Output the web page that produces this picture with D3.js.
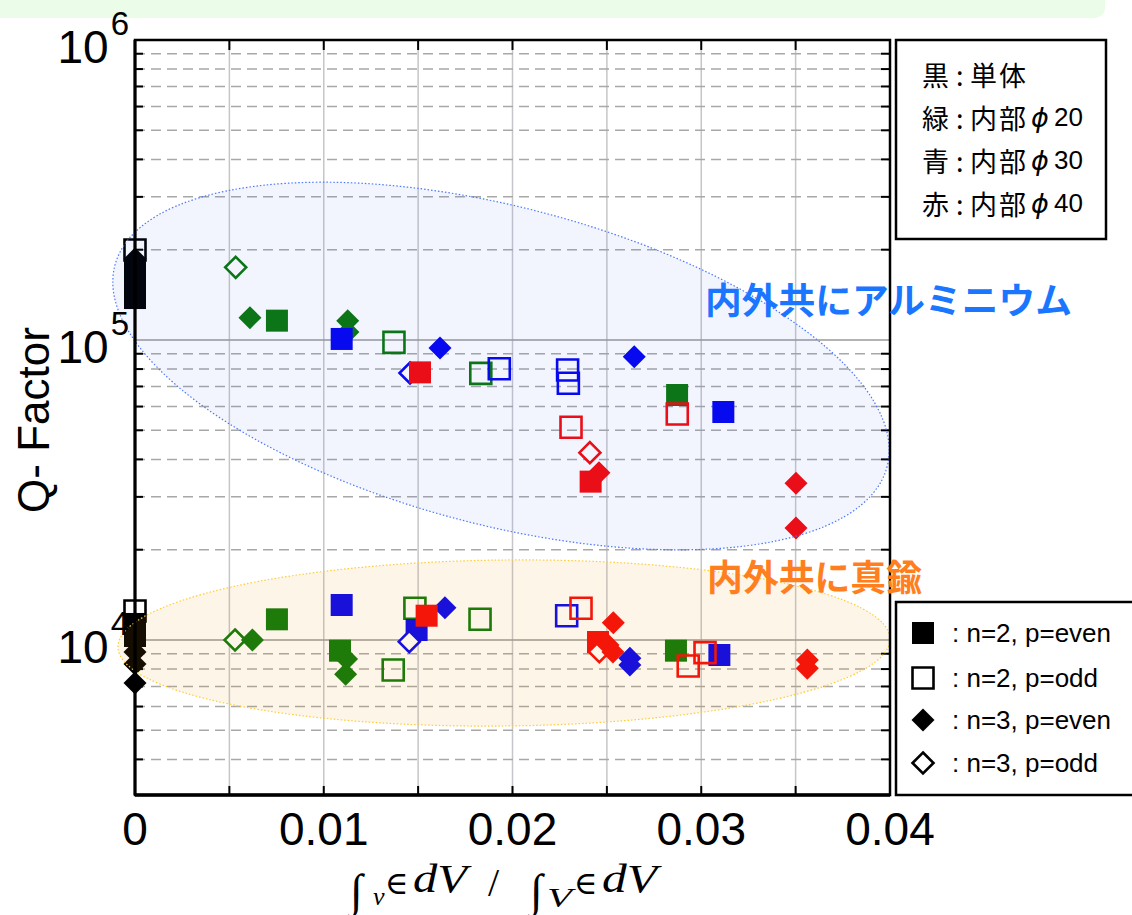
<!DOCTYPE html>
<html><head><meta charset="utf-8">
<script src="https://cdn.jsdelivr.net/npm/d3@7"></script>
<style>body{margin:0;background:#fff;overflow:hidden} svg{display:block}</style>
</head><body>
<svg id="c" width="1132" height="915"></svg>
<script>
// ---------- data ----------
const xTickValues = [0, 0.01, 0.02, 0.03, 0.04];
const xTickLabels = ["0", "0.01", "0.02", "0.03", "0.04"];
const yDecadeValues = [1e4, 1e5, 1e6];
const yDecadeExponents = ["4", "5", "6"];
const groupKeys = ["k", "g", "b", "r"];
const groupColors = ["#000000", "#0a780a", "#0505f0", "#f50a0a"];
const groupLegendHead = ["黒", "緑", "青", "赤"];
const groupLegendBody = ["単体", "内部", "内部", "内部"];
const groupLegendDiam = ["", "20", "30", "40"];
const markerLegend = [": n=2, p=even", ": n=2, p=odd", ": n=3, p=even", ": n=3, p=odd"];
const regionLabels = ["内外共にアルミニウム", "内外共に真鍮"];

// [x, Q, group]
const n2Even = [
  [0,171100,"k"],[0,152500,"k"],[0,138000,"k"],[0,11310,"k"],[0,10310,"k"],
  [0.00752,116000,"g"],[0.02872,65560,"g"],[0.00752,11720,"g"],[0.01086,9213,"g"],[0.02866,9213,"g"],
  [0.01095,100800,"b"],[0.03117,57540,"b"],[0.01095,13080,"b"],[0.01492,10800,"b"],[0.03096,8913,"b"],
  [0.0151,78000,"r"],[0.02414,33720,"r"],[0.01545,12050,"r"],[0.02453,9848,"r"]
];
const n2Odd = [
  [0,199500,"k"],[0,12490,"k"],
  [0.01372,98200,"g"],[0.01832,77400,"g"],[0.01368,7943,"g"],[0.01483,12755,"g"],[0.01828,11720,"g"],
  [0.0193,80170,"b"],[0.02292,79430,"b"],[0.02296,71750,"b"],[0.02287,12050,"b"],
  [0.0231,51170,"r"],[0.02873,56670,"r"],[0.02363,12755,"r"],[0.0302,9074,"r"],[0.02931,8190,"r"]
];
const n3Even = [
  [0,186200,"k"],[0,9120,"k"],[0,8318,"k"],[0,7190,"k"],
  [0.00609,118700,"g"],[0.01127,116000,"g"],[0.01128,106300,"g"],[0.00622,10000,"g"],[0.01121,8643,"g"],[0.01116,7688,"g"],
  [0.01616,94050,"b"],[0.02645,87990,"b"],[0.01642,12820,"b"],[0.02622,8690,"b"],[0.02622,8254,"b"],
  [0.02458,36130,"r"],[0.03502,33290,"r"],[0.03502,23620,"r"],[0.02534,11420,"r"],[0.02506,9623,"r"],[0.02532,9120,"r"],[0.03562,8577,"r"],[0.03562,8045,"r"]
];
const n3Odd = [
  [0.005335,174700,"g"],[0.0053,10000,"g"],
  [0.01457,77620,"b"],[0.01453,9872,"b"],
  [0.0241,42120,"r"],[0.0246,9141,"r"]
];
// region ellipses: centre [x, Q]
const aluCentre = [0.01939, 81900];
const brassCentre = [0.01955, 9772];

// ---------- layout ----------
const svg = d3.select("#c");
const L = 135, R = 890, T = 40, B = 795;
const x = d3.scaleLinear().domain([0, 0.04]).range([L, R]);
const y = d3.scaleLog().domain([Math.pow(10, 6 - 755/300), 1e6]).range([B, T]);
const colorOf = k => groupColors[groupKeys.indexOf(k)];

// top band
svg.append("rect").attr("x", -20).attr("y", -20).attr("width", 1125).attr("height", 38)
  .attr("rx", 10).attr("fill", "#ebfce8");

const g = svg.append("g");

// vertical grid
const xGrid = d3.range(1, 8).map(i => i * 0.005);
g.selectAll(".vg").data(xGrid).join("line")
  .attr("x1", d => x(d)).attr("x2", d => x(d)).attr("y1", T).attr("y2", B)
  .attr("stroke", "#c6c6ca").attr("stroke-width", 1.5);

// horizontal minor grid (dashed) and decade grid (solid)
const allTicks = y.ticks().filter(v => v > y.domain()[0] && v < 1e6);
const isDecade = v => Math.abs(Math.log10(v) - Math.round(Math.log10(v))) < 1e-6;
const minor = allTicks.filter(v => !isDecade(v));
const major = allTicks.filter(isDecade);
g.selectAll(".hg").data(minor).join("line")
  .attr("x1", L).attr("x2", R).attr("y1", d => y(d)).attr("y2", d => y(d))
  .attr("stroke", "#a8a8a8").attr("stroke-width", 1.5).attr("stroke-dasharray", "10,6");
g.selectAll(".hM").data(major).join("line")
  .attr("x1", L).attr("x2", R).attr("y1", d => y(d)).attr("y2", d => y(d))
  .attr("stroke", "#9a9a9a").attr("stroke-width", 1.5);

// ticks
const tk = svg.append("g").attr("stroke", "#000").attr("stroke-width", 2);
xGrid.forEach(v => {
  tk.append("line").attr("x1", x(v)).attr("x2", x(v)).attr("y1", B).attr("y2", B - 9);
  tk.append("line").attr("x1", x(v)).attr("x2", x(v)).attr("y1", T).attr("y2", T + 10);
});
minor.forEach(v => {
  tk.append("line").attr("x1", L).attr("x2", L + 8).attr("y1", y(v)).attr("y2", y(v));
  tk.append("line").attr("x1", R).attr("x2", R - 9).attr("y1", y(v)).attr("y2", y(v));
});

// markers
function markerPath(type) {
  if (type === "sqF") return "M-11,-11H11V11H-11Z";
  if (type === "sqO") return "M-10.5,-10.5H10.5V10.5H-10.5Z";
  if (type === "dF") return "M0,-11.5L11.5,0L0,11.5L-11.5,0Z";
  return "M0,-10.5L10.5,0L0,10.5L-10.5,0Z";
}
const series = [[n2Even, "sqF"], [n2Odd, "sqO"], [n3Odd, "dO"], [n3Even, "dF"]];
const mk = svg.append("g");
groupKeys.forEach(gk => {
  series.forEach(([arr, type]) => {
    mk.selectAll(null).data(arr.filter(d => d[2] === gk)).join("path")
      .attr("d", markerPath(type))
      .attr("transform", d => `translate(${x(d[0])},${y(d[1])})`)
      .attr("fill", type === "sqF" || type === "dF" ? colorOf(gk) : (type === "dO" ? "#fff" : "none"))
      .attr("stroke", type === "sqO" || type === "dO" ? colorOf(gk) : "none")
      .attr("stroke-width", 2.6);
  });
});

// region ellipses (on top, translucent)
svg.append("ellipse")
  .attr("cx", 0).attr("cy", 0).attr("rx", 399).attr("ry", 159)
  .attr("transform", `translate(${x(aluCentre[0])},${y(aluCentre[1])}) rotate(14.6)`)
  .attr("fill", "rgba(48,80,238,0.06)").attr("stroke", "#4a78ff").attr("stroke-width", 1.2)
  .attr("stroke-dasharray", "1.5,2");
svg.append("ellipse")
  .attr("cx", 0).attr("cy", 0).attr("rx", 386).attr("ry", 83)
  .attr("transform", `translate(${x(brassCentre[0])},${y(brassCentre[1])}) rotate(-0.6)`)
  .attr("fill", "rgba(235,145,0,0.09)").attr("stroke", "#ffcc33").attr("stroke-width", 1.2)
  .attr("stroke-dasharray", "1.5,2");

// frame
svg.append("rect").attr("x", L).attr("y", T).attr("width", R - L).attr("height", B - T)
  .attr("fill", "none").attr("stroke", "#000").attr("stroke-width", 2.5);
svg.append("line").attr("x1", L).attr("x2", L).attr("y1", T).attr("y2", B).attr("stroke", "#000").attr("stroke-width", 3);
svg.append("line").attr("x1", L).attr("x2", R).attr("y1", B).attr("y2", B).attr("stroke", "#000").attr("stroke-width", 3.5);

// x tick labels
svg.selectAll(".xl").data(xTickValues).join("text")
  .attr("x", d => x(d)).attr("y", 845).attr("text-anchor", "middle")
  .attr("font-family", "Liberation Sans, Arial, sans-serif").attr("font-size", 46)
  .text((d, i) => xTickLabels[i]);

// y tick labels
yDecadeValues.forEach((v, i) => {
  const t = svg.append("text").attr("x", 129).attr("y", y(v) + 23).attr("text-anchor", "end")
    .attr("font-family", "Liberation Sans, Arial, sans-serif").attr("font-size", 46);
  t.append("tspan").text("10");
  t.append("tspan").attr("font-size", 33).attr("dy", -28).attr("dx", 2).text(yDecadeExponents[i]);
});

// y title
svg.append("text").attr("transform", "translate(33,420) rotate(-90)")
  .attr("text-anchor", "middle").attr("dominant-baseline", "central")
  .attr("font-family", "Liberation Sans, Arial, sans-serif").attr("font-size", 44)
  .text("Q- Factor");

// x title (math)
const segs = [
  {t: "∫", x: 350, y: 906, s: 46, it: false, f: "Liberation Serif"},
  {t: "v", x: 373, y: 905, s: 26, it: true, f: "Liberation Serif"},
  {t: "∈", x: 385, y: 894, s: 32, it: false, f: "DejaVu Serif"},
  {t: "dV", x: 413, y: 892, s: 40, it: true, w: 54, f: "Liberation Serif"},
  {t: "/", x: 488, y: 896, s: 40, it: false, f: "Liberation Serif"},
  {t: "∫", x: 530, y: 906, s: 46, it: false, f: "Liberation Serif"},
  {t: "V", x: 547, y: 907, s: 28, it: true, w: 25, f: "Liberation Serif"},
  {t: "∈", x: 574, y: 894, s: 32, it: false, f: "DejaVu Serif"},
  {t: "dV", x: 602, y: 892, s: 40, it: true, w: 55, f: "Liberation Serif"}
];
segs.forEach(sg => {
  const t = svg.append("text").attr("x", sg.x).attr("y", sg.y)
    .attr("font-family", sg.f + ", serif").attr("font-size", sg.s)
    .attr("font-style", sg.it ? "italic" : "normal").text(sg.t);
  if (sg.w) t.attr("textLength", sg.w).attr("lengthAdjust", "spacingAndGlyphs");
});

// region labels
svg.append("text").attr("x", 705).attr("y", 298).attr("dominant-baseline", "central")
  .attr("font-family", "Noto Sans CJK JP").attr("font-weight", "bold").attr("font-size", 36)
  .attr("textLength", 367).attr("lengthAdjust", "spacingAndGlyphs")
  .attr("fill", "#1a75ff").text(regionLabels[0]);
svg.append("text").attr("x", 707).attr("y", 575).attr("dominant-baseline", "central")
  .attr("font-family", "Noto Sans CJK JP").attr("font-weight", "bold").attr("font-size", 36)
  .attr("textLength", 215).attr("lengthAdjust", "spacingAndGlyphs")
  .attr("fill", "#ff7f1e").text(regionLabels[1]);

// legend 1 (colours)
svg.append("rect").attr("x", 896).attr("y", 40).attr("width", 210).attr("height", 199)
  .attr("fill", "#fff").attr("stroke", "#000").attr("stroke-width", 2.5);
groupLegendHead.forEach((h, i) => {
  const t = svg.append("text").attr("y", 74 + i * 43).attr("dominant-baseline", "central")
    .attr("font-family", "Noto Sans CJK JP, DejaVu Sans").attr("font-size", 27);
  t.append("tspan").attr("x", 922).text(h);
  t.append("tspan").attr("x", 956).text(":");
  t.append("tspan").attr("x", 970).attr("letter-spacing", 2).text(groupLegendBody[i]);
  if (groupLegendDiam[i]) {
    t.append("tspan").attr("x", 1031).attr("font-family", "DejaVu Sans").attr("font-style", "italic")
      .attr("font-size", 27).text("ϕ");
    t.append("tspan").attr("x", 1054).attr("font-family", "Liberation Sans, Arial, sans-serif")
      .attr("font-size", 26).text(groupLegendDiam[i]);
  }
});

// legend 2 (markers)
svg.append("rect").attr("x", 896).attr("y", 602).attr("width", 260).attr("height", 193)
  .attr("fill", "#fff").attr("stroke", "#000").attr("stroke-width", 2.5);
const lgTypes = ["sqF", "sqO", "dF", "dO"];
const lgY = [633, 678, 720, 763];
lgTypes.forEach((tp, i) => {
  svg.append("path").attr("d", markerPath(tp)).attr("transform", `translate(923,${lgY[i]})`)
    .attr("fill", tp === "sqF" || tp === "dF" ? "#000" : "#fff")
    .attr("stroke", tp === "sqO" || tp === "dO" ? "#000" : "none").attr("stroke-width", 2.6);
  svg.append("text").attr("x", 952).attr("y", lgY[i]).attr("dominant-baseline", "central")
    .attr("font-family", "Liberation Sans, Arial, sans-serif").attr("font-size", 26)
    .text(markerLegend[i]);
});
</script>
</body></html>
